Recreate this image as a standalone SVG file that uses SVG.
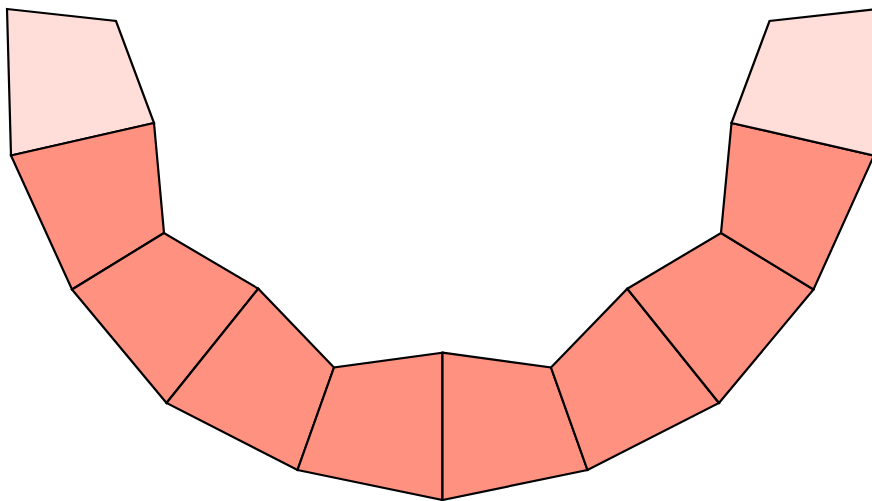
<svg xmlns="http://www.w3.org/2000/svg" width="872" height="501" viewBox="0 0 872 501">
<style>
.s{stroke:#000;stroke-width:2.2;stroke-linejoin:miter}
.d{fill:#ff9180}
.l{fill:#ffded9}
</style>
<rect width="872" height="501" fill="#fff"/>
<g id="seg-l5"><polygon class="s l" points="7,9 116,21 154,123 11,155.5"/></g>
<g id="seg-l4"><polygon class="s d" points="11,155.5 154,123 164,233 72,289.5"/></g>
<g id="seg-l3"><polygon class="s d" points="72,289.5 164,233 258.3,288.7 166.5,403"/></g>
<g id="seg-l2"><polygon class="s d" points="166.5,403 258.3,288.7 334,367.5 297.5,470"/></g>
<g id="seg-l1"><polygon class="s d" points="297.5,470 334,367.5 442.5,352.7 442.5,500"/></g>
<g id="seg-r1"><polygon class="s d" points="442.5,352.7 551,367.5 587.5,470 442.5,500"/></g>
<g id="seg-r2"><polygon class="s d" points="551,367.5 627.3,288.7 719,403 587.5,470"/></g>
<g id="seg-r3"><polygon class="s d" points="627.3,288.7 721,233 813.5,289.5 719,403"/></g>
<g id="seg-r4"><polygon class="s d" points="721,233 731.5,123 874,155.5 813.5,289.5"/></g>
<g id="seg-r5"><polygon class="s l" points="731.5,123 769.5,21 878,9 874,155.5"/></g>
<g id="connectors"></g>
</svg>
